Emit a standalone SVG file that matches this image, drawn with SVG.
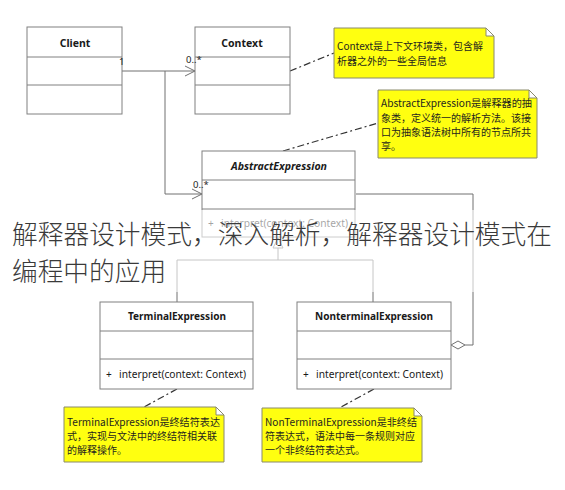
<svg xmlns="http://www.w3.org/2000/svg" width="565" height="490" viewBox="0 0 565 490">
<defs>
<style>
.box{fill:#fff;stroke:#808080;stroke-width:1}
.div{stroke:#808080;stroke-width:1}
.ttl{font-family:"Noto Sans","Liberation Sans",sans-serif;font-weight:bold;font-size:10.5px;fill:#1a1a1a;text-anchor:middle}
.op{font-family:"Noto Sans","Liberation Sans",sans-serif;font-size:10px;fill:#1a1a1a}
.mul{font-family:"Noto Sans","Liberation Sans",sans-serif;font-size:9.5px;fill:#222}
.note{fill:#ffff10;stroke:#8a8a6a;stroke-width:1}
.fold{fill:#fff;stroke:#8a8a6a;stroke-width:1}
.nt{font-family:"Noto Sans CJK SC","Noto Sans",sans-serif;font-size:10px;fill:#1e1e1e}
.ln{fill:none;stroke:#707070;stroke-width:1}
.dd{fill:none;stroke:#333;stroke-width:1.2;stroke-dasharray:7,3,2,3}
.big{font-family:"Noto Sans CJK SC","Noto Sans",sans-serif;font-size:25.7px;font-weight:300;fill:#3a3a3a}
</style>
</defs>
<rect x="0" y="0" width="565" height="490" fill="#fff"/>

<g id="connectors">
<polyline class="ln" points="122,71 195,71"/>
<polyline class="ln" points="185,66 195,71 185,76"/>
<polyline class="ln" points="165,71 165,194 202,194"/>
<polyline class="ln" points="192,189 202,194 192,199"/>
<polyline class="ln" points="278,248 278,260"/>
<polyline class="ln" points="177,302 177,260 373,260 373,302"/>
<polygon points="278,238 273,248 283,248" fill="#fff" stroke="#707070" stroke-width="1"/>
<polyline class="ln" points="356,194 473,194 473,345 465,345"/>
<polygon points="451,345 458,341 465,345 458,349" fill="#fff" stroke="#707070" stroke-width="1"/>
<line class="dd" x1="290" y1="71" x2="334" y2="53"/>
<line class="dd" x1="283" y1="151" x2="378" y2="123"/>
<line class="dd" x1="177" y1="389" x2="144" y2="407"/>
<line class="dd" x1="374" y1="389" x2="341" y2="407"/>
</g>

<g id="client">
<rect class="box" x="27" y="27" width="95" height="87"/>
<line class="div" x1="27" y1="57" x2="122" y2="57"/>
<line class="div" x1="27" y1="85" x2="122" y2="85"/>
<text class="ttl" x="75" y="47">Client</text>
<text class="mul" x="119" y="65">1</text>
</g>

<g id="context">
<rect class="box" x="195" y="27" width="95" height="87"/>
<line class="div" x1="195" y1="57" x2="290" y2="57"/>
<line class="div" x1="195" y1="85" x2="290" y2="85"/>
<text class="ttl" x="242" y="47">Context</text>
<text class="mul" x="186" y="63">0..*</text>
</g>

<g id="abstractExpression">
<rect class="box" x="202" y="151" width="153" height="86"/>
<line class="div" x1="202" y1="180" x2="355" y2="180"/>
<line class="div" x1="202" y1="209" x2="355" y2="209"/>
<text class="ttl" x="279" y="170" font-style="italic" textLength="96" lengthAdjust="spacingAndGlyphs">AbstractExpression</text>
<text class="op" x="208" y="227">+</text>
<text class="op" x="221" y="227" textLength="127" lengthAdjust="spacingAndGlyphs">interpret(context: Context)</text>
<text class="mul" x="193" y="188">0..*</text>
</g>

<g id="terminalExpression">
<rect class="box" x="100" y="302" width="153" height="87"/>
<line class="div" x1="100" y1="331" x2="253" y2="331"/>
<line class="div" x1="100" y1="359" x2="253" y2="359"/>
<text class="ttl" x="177" y="320" textLength="98" lengthAdjust="spacingAndGlyphs">TerminalExpression</text>
<text class="op" x="106" y="378">+</text>
<text class="op" x="119" y="378" textLength="127" lengthAdjust="spacingAndGlyphs">interpret(context: Context)</text>
</g>

<g id="nonterminalExpression">
<rect class="box" x="297" y="302" width="154" height="87"/>
<line class="div" x1="297" y1="331" x2="451" y2="331"/>
<line class="div" x1="297" y1="359" x2="451" y2="359"/>
<text class="ttl" x="374" y="320" textLength="118" lengthAdjust="spacingAndGlyphs">NonterminalExpression</text>
<text class="op" x="303" y="378">+</text>
<text class="op" x="316" y="378" textLength="127" lengthAdjust="spacingAndGlyphs">interpret(context: Context)</text>
</g>

<g id="noteContext">
<path class="note" d="M334,28 H486 L494,36 V78 H334 Z"/>
<path class="fold" d="M486,28 V36 H494 Z"/>
<text class="nt" x="337" y="50">Context是上下文环境类，包含解</text>
<text class="nt" x="337" y="65">析器之外的一些全局信息</text>
</g>

<g id="noteAbstract">
<path class="note" d="M378,90 H529 L537,98 V158 H378 Z"/>
<path class="fold" d="M529,90 V98 H537 Z"/>
<text class="nt" x="381" y="107" textLength="151" lengthAdjust="spacingAndGlyphs">AbstractExpression是解释器的抽</text>
<text class="nt" x="381" y="122">象类，定义统一的解析方法。该接</text>
<text class="nt" x="381" y="136">口为抽象语法树中所有的节点所共</text>
<text class="nt" x="381" y="150">享。</text>
</g>

<g id="noteTerminal">
<path class="note" d="M64,407 H216 L224,415 V462 H64 Z"/>
<path class="fold" d="M216,407 V415 H224 Z"/>
<text class="nt" x="67" y="426" textLength="153" lengthAdjust="spacingAndGlyphs">TerminalExpression是终结符表达</text>
<text class="nt" x="67" y="440">式，实现与文法中的终结符相关联</text>
<text class="nt" x="67" y="454">的解释操作。</text>
</g>

<g id="noteNonterminal">
<path class="note" d="M262,408 H414 L422,416 V462 H262 Z"/>
<path class="fold" d="M414,408 V416 H422 Z"/>
<text class="nt" x="265" y="426" textLength="152" lengthAdjust="spacingAndGlyphs">NonTerminalExpression是非终结</text>
<text class="nt" x="265" y="440">符表达式，语法中每一条规则对应</text>
<text class="nt" x="265" y="454">一个非终结符表达式。</text>
</g>

<g id="overlayTitle">
<rect x="0" y="210" width="565" height="82" fill="#fff" opacity="0.6"/>
<text class="big" x="12" y="244" textLength="540" lengthAdjust="spacingAndGlyphs">解释器设计模式，深入解析，解释器设计模式在</text>
<text class="big" x="12" y="281">编程中的应用</text>
</g>
</svg>
